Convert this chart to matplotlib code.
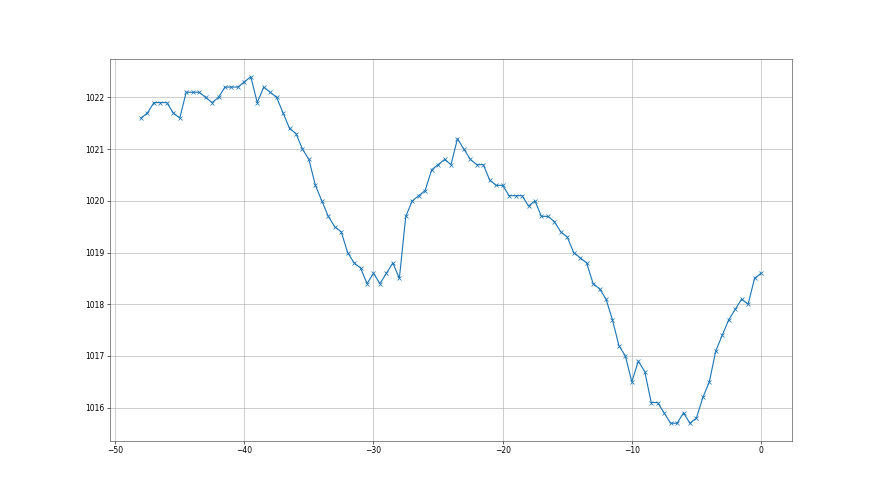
import matplotlib
matplotlib.use('Agg')
import matplotlib.pyplot as plt
import numpy as np

# Hours before now (step 0.5)
hours = [-48 + 0.5 * i for i in range(97)]

# Pressure readings (hPa)
pressure = [
    1021.6, 1021.7, 1021.9, 1021.9, 1021.9, 1021.7, 1021.6, 1022.1, 1022.1, 1022.1,
    1022.0, 1021.9, 1022.0, 1022.2, 1022.2, 1022.2, 1022.3, 1022.4, 1021.9, 1022.2,
    1022.1, 1022.0, 1021.7, 1021.4, 1021.3, 1021.0, 1020.8, 1020.3, 1020.0, 1019.7,
    1019.5, 1019.4, 1019.0, 1018.8, 1018.7, 1018.4, 1018.6, 1018.4, 1018.6, 1018.8,
    1018.5, 1019.7, 1020.0, 1020.1, 1020.2, 1020.6, 1020.7, 1020.8, 1020.7, 1021.2,
    1021.0, 1020.8, 1020.7, 1020.7, 1020.4, 1020.3, 1020.3, 1020.1, 1020.1, 1020.1,
    1019.9, 1020.0, 1019.7, 1019.7, 1019.6, 1019.4, 1019.3, 1019.0, 1018.9, 1018.8,
    1018.4, 1018.3, 1018.1, 1017.7, 1017.2, 1017.0, 1016.5, 1016.9, 1016.7, 1016.1,
    1016.1, 1015.9, 1015.7, 1015.7, 1015.9, 1015.7, 1015.8, 1016.2, 1016.5, 1017.1,
    1017.4, 1017.7, 1017.9, 1018.1, 1018.0, 1018.5, 1018.6,
]

fig, ax = plt.subplots(figsize=(16, 9), dpi=55)
ax.plot(hours, pressure, marker='x', color='#1f77b4', linewidth=1.5, markersize=6)
ax.grid(True, color='#b0b0b0', linewidth=0.8)
ax.set_axisbelow(True)
for s in ax.spines.values():
    s.set_color('#444444')
ax.tick_params(labelsize=10)
ax.set_xticks(np.arange(-50, 1, 10))

fig.savefig('out.png', dpi=55)
